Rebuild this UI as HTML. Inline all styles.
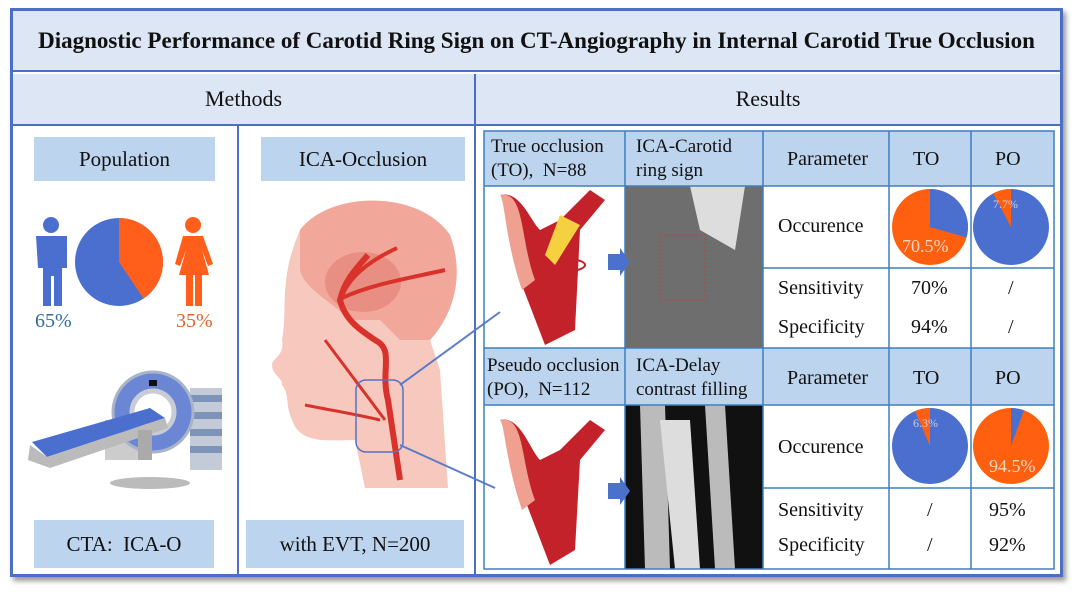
<!DOCTYPE html>
<html><head><meta charset="utf-8"><style>
body{margin:0;width:1080px;height:597px;background:#fff;position:relative;overflow:hidden;font-family:"Liberation Serif",serif;color:#111}
.a{position:absolute;box-sizing:border-box}
.bx{background:#bdd4ee;display:flex;align-items:center;justify-content:center;font-size:21px}
.t{position:absolute;font-size:20px;line-height:24px}
.h{font-size:19px}
</style></head><body>
<div class="a" style="left:10px;top:8px;width:1053px;height:569px;border:3px solid #4a6fc4;box-shadow:3px 4px 5px #999"></div>
<div class="a" style="left:13px;top:11px;width:1047px;height:61px;background:#dce6f4;border-bottom:2px solid #4a6fc4;display:flex;align-items:center;justify-content:center;font-weight:bold;font-size:23px;white-space:nowrap">Diagnostic Performance of Carotid Ring Sign on CT-Angiography in Internal Carotid True Occlusion</div>
<div class="a" style="left:13px;top:74px;width:461px;height:52px;background:#dce6f4;border-bottom:2px solid #4a6fc4;display:flex;align-items:center;justify-content:center;font-size:22px">Methods</div>
<div class="a" style="left:474px;top:74px;width:586px;height:52px;background:#dce6f4;border-bottom:2px solid #4a6fc4;border-left:2px solid #4a6fc4;display:flex;align-items:center;justify-content:center;font-size:22px">Results</div>
<div class="a" style="left:474px;top:126px;width:2px;height:448px;background:#4a6fc4"></div>
<div class="a" style="left:237px;top:126px;width:2px;height:448px;background:#4a6fc4"></div>
<div class="a bx" style="left:34px;top:137px;width:181px;height:44px">Population</div>
<div class="a bx" style="left:261px;top:137px;width:204px;height:44px">ICA-Occlusion</div>
<div class="a bx" style="left:34px;top:520px;width:180px;height:48px">CTA:&nbsp; ICA-O</div>
<div class="a bx" style="left:246px;top:520px;width:218px;height:48px">with EVT, N=200</div>
<svg class="a" style="left:0;top:0" width="1080" height="597">
<circle cx="51" cy="225" r="8" fill="#4a6fcf"/>
<path d="M36,236 h31 v32 h-5 v38 h-8 v-30 h-3 v30 h-8 v-38 h-5z" fill="#4a6fcf"/>
<circle cx="193" cy="225" r="8" fill="#ff5f1a"/>
<path d="M183,236 h20 l10,28 -5,2 -6,-16 7,25 h-7 v31 h-7 v-31 h-2 v31 h-7 v-31 h-7 l7,-25 -6,16 -5,-2z" fill="#ff5f1a"/>
<circle cx="119" cy="262" r="44" fill="#4a6fcf"/>
<path d="M119,262 L119,218 A44,44 0 0 1 143.6,298.5 Z" fill="#ff5f1a"/>
<text x="35" y="327" font-size="20" fill="#2e6d9a" font-family="Liberation Serif">65%</text>
<text x="176" y="327" font-size="20" fill="#e0622a" font-family="Liberation Serif">35%</text>
<rect x="190" y="388" width="32" height="82" fill="#c3cad8"/>
<g fill="#7d93b8"><rect x="190" y="395" width="32" height="7"/><rect x="190" y="412" width="32" height="7"/><rect x="190" y="429" width="32" height="7"/><rect x="190" y="446" width="32" height="7"/></g>
<rect x="105" y="420" width="40" height="40" fill="#ccc"/>
<circle cx="153" cy="412" r="40" fill="#6b86d4" stroke="#aab4c8" stroke-width="3"/>
<circle cx="153" cy="412" r="21" fill="#fff" stroke="#c8ccd4" stroke-width="5"/>
<rect x="149" y="380" width="8" height="6" fill="#111"/>
<path d="M32,442 L150,408 L165,418 L47,457 Z" fill="#4a6fcf"/>
<path d="M30,445 L47,457 L165,418 L168,428 L50,468 L28,460 Z" fill="#bbb"/>
<rect x="138" y="430" width="14" height="30" fill="#aaa"/>
<ellipse cx="150" cy="483" rx="40" ry="6" fill="#bbb"/>
<path d="M300,230 C330,190 420,190 450,235 C470,290 440,330 430,340 L440,370 L448,488 L365,488 L355,440 C330,440 300,445 292,420 C285,405 290,395 282,385 C283,378 272,375 272,365 C272,358 285,356 282,340 C288,310 278,280 300,230 Z" fill="#f7c9be"/>
<path d="M300,230 C330,190 420,190 450,235 C470,290 440,330 430,340 L400,340 L380,320 L350,320 C330,300 305,290 300,270 Z" fill="#f1a89a"/>
<ellipse cx="363" cy="282" rx="38" ry="30" fill="#e98e82"/>
<path d="M400,480 L388,400 C380,370 395,350 375,340 C360,330 345,320 340,300 C345,280 355,270 368,255" stroke="#d9322a" stroke-width="6" fill="none"/>
<path d="M342,298 C370,285 400,280 445,270 M340,300 C345,290 350,270 397,248" stroke="#d9322a" stroke-width="4" fill="none"/>
<path d="M385,420 C370,400 340,360 325,340 M380,420 C360,415 330,410 305,405" stroke="#d9322a" stroke-width="3" fill="none"/>
<rect x="356" y="380" width="47" height="72" rx="10" fill="none" stroke="#5a70c0" stroke-width="1.5"/>
<line x1="400" y1="385" x2="500" y2="312" stroke="#5a7cc8" stroke-width="2"/>
<line x1="400" y1="445" x2="495" y2="488" stroke="#5a7cc8" stroke-width="2"/>
<g fill="#bdd4ee"><rect x="484" y="131" width="570" height="55"/><rect x="484" y="348" width="570" height="57"/></g>
<rect x="625" y="186" width="138" height="162" fill="#6e6e6e"/>
<path d="M690,186 L745,186 L735,250 L700,230Z" fill="#ddd"/>
<rect x="660" y="235" width="45" height="65" fill="none" stroke="#c04040" stroke-dasharray="2,2"/>
<rect x="625" y="405" width="138" height="164" fill="#111"/>
<path d="M640,405 L665,405 L670,569 L645,569Z M705,405 L725,405 L735,569 L715,569Z" fill="#bbb"/>
<path d="M660,420 L690,420 L700,569 L675,569Z" fill="#ddd"/>
<g stroke="#3c7fc0" stroke-width="1.5" fill="none">
<rect x="484" y="131" width="570" height="438"/>
<line x1="484" y1="186" x2="1054" y2="186"/><line x1="484" y1="348" x2="1054" y2="348"/><line x1="484" y1="405" x2="1054" y2="405"/>
<line x1="763" y1="268" x2="1054" y2="268"/><line x1="763" y1="488" x2="1054" y2="488"/>
<line x1="625" y1="131" x2="625" y2="569"/><line x1="763" y1="131" x2="763" y2="569"/><line x1="889" y1="131" x2="889" y2="569"/><line x1="971" y1="131" x2="971" y2="569"/>
</g>
<path d="M500,195 C520,200 510,240 520,280 L545,345 L575,330 L580,230 L605,200 L590,190 L560,220 L540,230 C530,220 520,190 500,195Z" fill="#c4222a"/>
<path d="M500,195 C525,190 520,240 535,280 L522,290 C505,240 505,200 500,195Z" fill="#f0a090"/>
<ellipse cx="560" cy="265" rx="25" ry="7" fill="none" stroke="#c4222a" stroke-width="2"/>
<path d="M560,215 L580,225 L555,265 L545,255Z" fill="#f5d040"/>
<path d="M500,420 C520,420 515,460 525,500 L550,565 L575,550 L580,460 L605,430 L590,420 L560,450 L540,460 C530,450 520,415 500,420Z" fill="#c4222a"/>
<path d="M500,420 C525,415 520,460 535,500 L522,510 C505,460 505,425 500,420Z" fill="#f0a090"/>
<path d="M608,254 h12 v-6 l10,14 -10,14 v-6 h-12z" fill="#4a72cc"/>
<path d="M608,483 h12 v-6 l10,14 -10,14 v-6 h-12z" fill="#4a72cc"/>
<circle cx="930" cy="227" r="38" fill="#ff6010"/>
<path d="M930,227 L930,189 A38,38 0 0 1 966.5,237.5 Z" fill="#4a6fcf"/>
<text x="902" y="252" font-size="18" fill="#ffd5c0" font-family="Liberation Serif">70.5%</text>
<circle cx="1011" cy="227" r="38" fill="#4a6fcf"/>
<path d="M1011,227 L993.2,193.4 A38,38 0 0 1 1011,189 Z" fill="#ff6010"/>
<text x="993" y="208" font-size="12" fill="#ccd" font-family="Liberation Serif">7.7%</text>
<circle cx="930" cy="446" r="38" fill="#4a6fcf"/>
<path d="M930,446 L915.1,411 A38,38 0 0 1 930,408 Z" fill="#ff6010"/>
<text x="913" y="427" font-size="12" fill="#ccd" font-family="Liberation Serif">6.3%</text>
<circle cx="1011" cy="446" r="38" fill="#ff6010"/>
<path d="M1011,446 L1011,408 A38,38 0 0 1 1024,410.3 Z" fill="#4a6fcf"/>
<text x="989" y="472" font-size="18" fill="#ffd5c0" font-family="Liberation Serif">94.5%</text>
</svg>
<div class="t h" style="left:491px;top:135px">True occlusion<br>(TO),&nbsp; N=88</div>
<div class="t h" style="left:636px;top:135px">ICA-Carotid<br>ring sign</div>
<div class="t" style="left:787px;top:147px">Parameter</div>
<div class="t" style="left:913px;top:147px">TO</div>
<div class="t" style="left:995px;top:147px">PO</div>
<div class="t" style="left:778px;top:214px">Occurence</div>
<div class="t" style="left:778px;top:276px">Sensitivity</div>
<div class="t" style="left:778px;top:315px">Specificity</div>
<div class="t" style="left:911px;top:276px">70%</div>
<div class="t" style="left:911px;top:315px">94%</div>
<div class="t" style="left:1008px;top:276px">/</div>
<div class="t" style="left:1008px;top:315px">/</div>
<div class="t h" style="left:487px;top:354px">Pseudo occlusion<br>(PO),&nbsp; N=112</div>
<div class="t h" style="left:636px;top:354px">ICA-Delay<br>contrast filling</div>
<div class="t" style="left:787px;top:366px">Parameter</div>
<div class="t" style="left:913px;top:366px">TO</div>
<div class="t" style="left:995px;top:366px">PO</div>
<div class="t" style="left:778px;top:435px">Occurence</div>
<div class="t" style="left:778px;top:498px">Sensitivity</div>
<div class="t" style="left:778px;top:533px">Specificity</div>
<div class="t" style="left:927px;top:498px">/</div>
<div class="t" style="left:927px;top:533px">/</div>
<div class="t" style="left:989px;top:498px">95%</div>
<div class="t" style="left:989px;top:533px">92%</div>
</body></html>
